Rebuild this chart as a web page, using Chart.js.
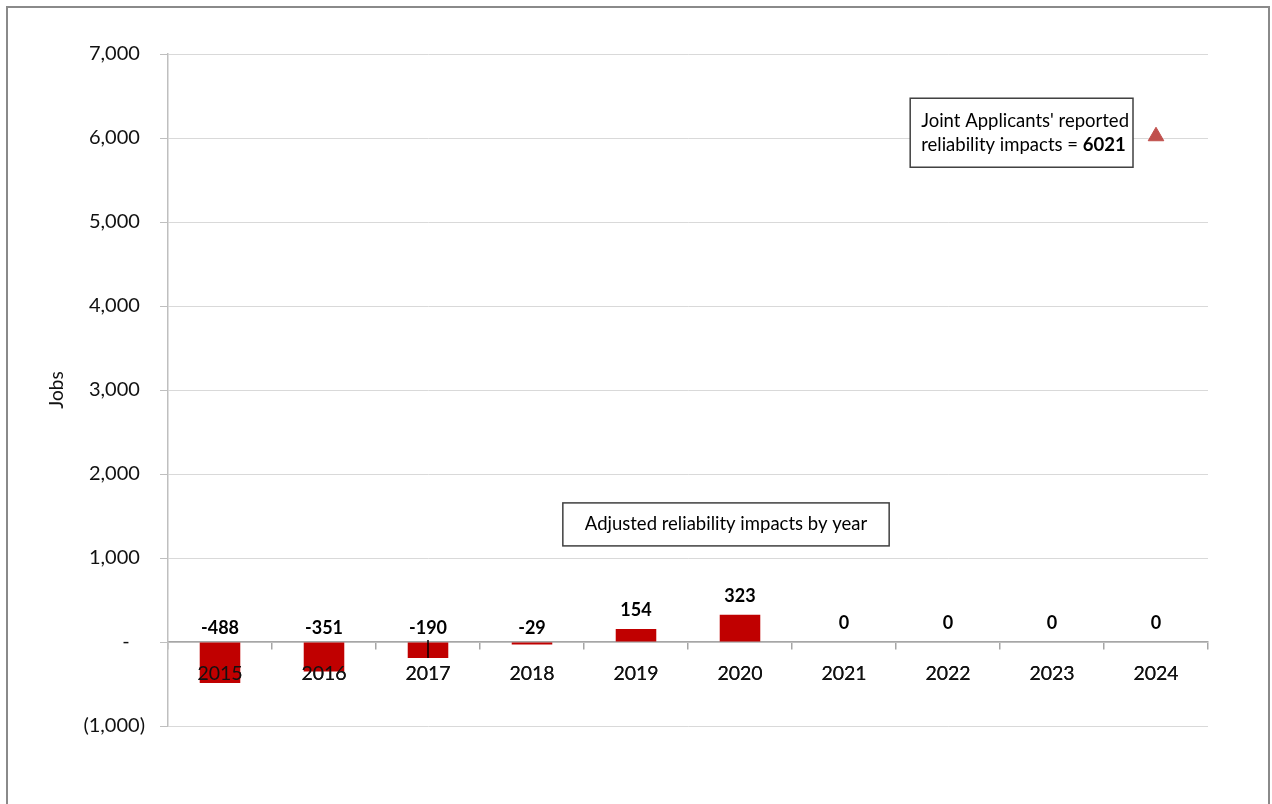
<!DOCTYPE html>
<html>
<head>
<meta charset="utf-8">
<script src="https://cdn.jsdelivr.net/npm/chart.js@4.4.1/dist/chart.umd.min.js"></script>
<style>
  body { margin: 0; background: #fff; }
  #wrap { position: relative; width: 1272px; height: 804px; overflow: hidden; }
  #chart { position: absolute; left: 0; top: 0; }
  #frame { position: absolute; left: 6px; top: 6px; width: 1260px; height: 900px;
           border: 2px solid #8a8a8a; pointer-events: none; }
</style>
</head>
<body>
<div id="wrap">
  <canvas id="chart" width="1272" height="804"></canvas>
  <div id="frame"></div>
</div>
<script>
// --- data ---
const years = ['2015', '2016', '2017', '2018', '2019', '2020', '2021', '2022', '2023', '2024'];
const adjustedImpacts = [-488, -351, -190, -29, 154, 323, 0, 0, 0, 0];
const reportedImpacts = [null, null, null, null, null, null, null, null, null, 6021];
const markedYears = ['2017'];
const reportedNote = ["Joint Applicants' reported", 'reliability impacts = ', '6021'];
const adjustedNote = 'Adjusted reliability impacts by year';
const yMin = -1000, yMax = 7000, yStep = 1000;

const FONT = 'Lato, Carlito, Calibri, sans-serif';
const NOTE_SIZE = 18.5;

// accounting style: 0 -> "-", negatives in brackets
function fmtJobs(v) {
    if (v === 0) return '-   ';
    const s = Math.abs(v).toLocaleString('en-US');
    return v < 0 ? '(' + s + ')' : s + ' ';
}

// bold value labels over the bars, year labels redrawn on top of the bars
const valueLabels = {
    id: 'valueLabels',
    afterDatasetsDraw(chart) {
        chart.scales.x.drawLabels(chart.chartArea);
    },
    afterDraw(chart) {
        const ctx = chart.ctx;
        const y = chart.scales.y;
        const zero = y.getPixelForValue(0);
        const meta = chart.getDatasetMeta(0);
        ctx.save();
        ctx.font = 'bold 18px ' + FONT;
        ctx.fillStyle = '#000';
        ctx.textAlign = 'center';
        ctx.textBaseline = 'middle';
        meta.data.forEach((bar, i) => {
            const v = adjustedImpacts[i];
            const cy = v >= 0 ? bar.y - 19 : zero - 14;
            ctx.fillText(String(v), bar.x, cy);
            if (markedYears.includes(years[i])) {
                ctx.strokeStyle = '#000';
                ctx.lineWidth = 1.5;
                ctx.beginPath();
                ctx.moveTo(bar.x, zero - 2);
                ctx.lineTo(bar.x, bar.y);
                ctx.stroke();
            }
        });
        ctx.restore();
    }
};

// the two text boxes
const notes = {
    id: 'notes',
    afterDraw(chart) {
        const ctx = chart.ctx;
        const {x, y} = chart.scales;
        const normal = NOTE_SIZE + 'px ' + FONT;
        const bold = 'bold ' + NOTE_SIZE + 'px ' + FONT;
        ctx.save();
        ctx.strokeStyle = '#404040';
        ctx.lineWidth = 1.5;
        ctx.textBaseline = 'middle';
        ctx.textAlign = 'left';

        // reported total, left of the triangle
        const px = x.getPixelForValue(years.length - 1);
        const py = y.getPixelForValue(reportedImpacts[years.length - 1]);
        ctx.font = normal;
        const w1 = ctx.measureText(reportedNote[0]).width;
        const w2a = ctx.measureText(reportedNote[1]).width;
        ctx.font = bold;
        const w2b = ctx.measureText(reportedNote[2]).width;
        const bw = Math.max(w1, w2a + w2b) + 15;
        const bx = px - 23 - bw, by = py - 38, bh = 69;
        ctx.fillStyle = '#fff';
        ctx.fillRect(bx, by, bw, bh);
        ctx.strokeRect(bx, by, bw, bh);
        ctx.fillStyle = '#000';
        ctx.font = normal;
        ctx.fillText(reportedNote[0], bx + 11, by + 23);
        ctx.fillText(reportedNote[1], bx + 11, by + 47);
        ctx.font = bold;
        ctx.fillText(reportedNote[2], bx + 11 + w2a, by + 47);

        // adjusted series caption
        ctx.font = normal;
        const tw = ctx.measureText(adjustedNote).width;
        const cx = x.getPixelForValue(5) - 14;
        const cy = y.getPixelForValue(1400);
        const w = tw + 44, h = 43;
        ctx.fillStyle = '#fff';
        ctx.fillRect(cx - w / 2, cy - h / 2, w, h);
        ctx.strokeRect(cx - w / 2, cy - h / 2, w, h);
        ctx.fillStyle = '#000';
        ctx.textAlign = 'center';
        ctx.fillText(adjustedNote, cx, cy);
        ctx.restore();
    }
};

const ctx = document.getElementById('chart').getContext('2d');

const chart = new Chart(ctx, {
    data: {
        labels: years,
        datasets: [
            {
                type: 'bar',
                data: adjustedImpacts,
                backgroundColor: '#C00000',
                borderWidth: 0,
                categoryPercentage: 1,
                barPercentage: 0.39,
                order: 2
            },
            {
                type: 'line',
                data: reportedImpacts,
                showLine: false,
                pointStyle: 'triangle',
                pointRadius: 9,
                pointBackgroundColor: '#C0504D',
                pointBorderColor: '#C0504D',
                pointBorderWidth: 1,
                order: 1
            }
        ]
    },
    options: {
        responsive: false,
        animation: false,
        devicePixelRatio: 1,
        layout: { padding: { top: 54, right: 64, bottom: 78, left: 0 } },
        plugins: { legend: { display: false }, tooltip: { enabled: false } },
        scales: {
            x: {
                position: { y: 0 },
                offset: true,
                grid: { drawOnChartArea: false, tickLength: 7, color: '#a6a6a6', lineWidth: 1.5 },
                border: { color: '#a6a6a6', width: 1.5 },
                ticks: { color: '#111', font: { family: FONT, size: 19.5 }, padding: 13, maxRotation: 0 }
            },
            y: {
                min: yMin,
                max: yMax,
                afterFit(scale) { scale.width = 168; },
                ticks: {
                    stepSize: yStep,
                    callback: fmtJobs,
                    color: '#111',
                    font: { family: FONT, size: 20 },
                    padding: 15
                },
                grid: { color: '#d9d9d9', tickColor: '#bfbfbf', tickLength: 8, lineWidth: 1 },
                border: { color: '#bfbfbf', width: 1.5 },
                title: {
                    display: true,
                    text: 'Jobs',
                    color: '#111',
                    font: { family: FONT, size: 19 },
                    padding: { top: 45, bottom: 0 }
                }
            }
        }
    },
    plugins: [valueLabels, notes]
});
</script>
</body>
</html>
